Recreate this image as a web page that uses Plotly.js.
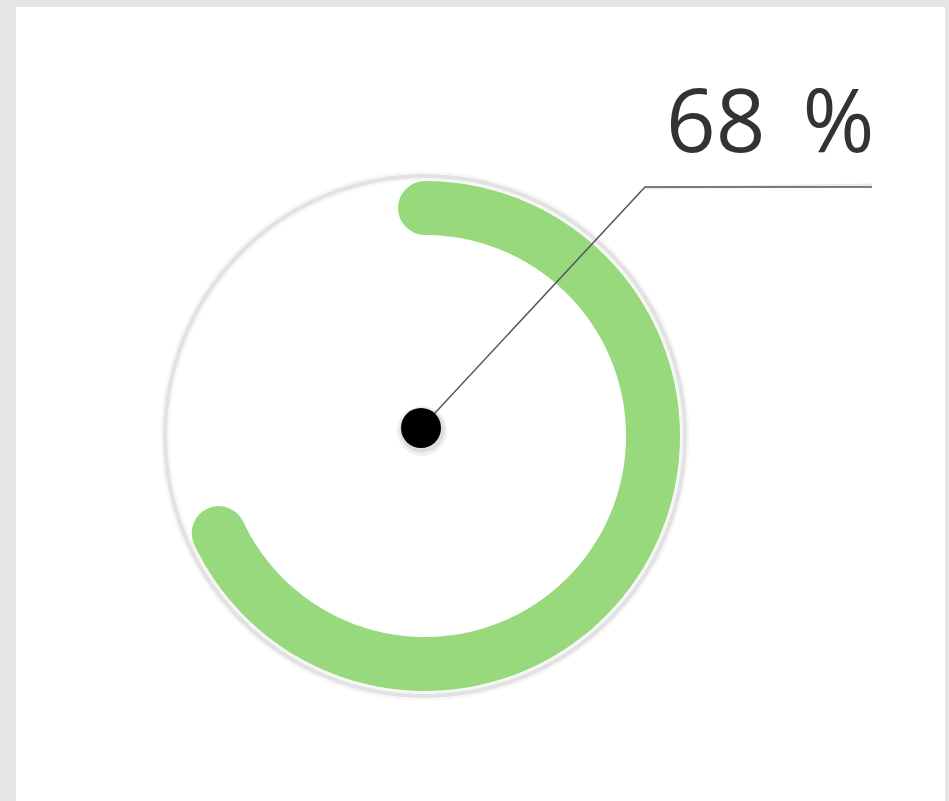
<!DOCTYPE html>
<html><head><meta charset="utf-8">
<script src="https://cdn.plot.ly/plotly-3.0.1.min.js"></script>
<style>html,body{margin:0;padding:0;background:#e6e5e3}</style>
</head><body><div id="chart" style="width:949px;height:801px"></div>
<script>
// ---- data ----
const value = 68;          // percent shown by the gauge
const maxValue = 100;
const labelSuffix = ' %';

// ---- geometry (pixel-like units, origin at gauge centre) ----
const W = 949, H = 801, cx = 425, cy = 436;
const R_RING = 260, R_ARC = 228, ARC_W = 54;
const DOT = {x: -4, y: 8};
const ELBOW = {x: 220, y: 249}, LEAD_END = 447;

const N = 400;
const sweep = value / maxValue * 360;
const arcX = [], arcY = [];
for (let i = 0; i <= N; i++) {
  const a = sweep * i / N * Math.PI / 180;
  arcX.push(R_ARC * Math.sin(a));
  arcY.push(R_ARC * Math.cos(a));
}
const green = '#98d97e';

const traces = [
  {x: arcX, y: arcY, mode: 'lines', line: {color: green, width: ARC_W, simplify: false}, hoverinfo: 'skip'},
  {x: [arcX[0], arcX[N]], y: [arcY[0], arcY[N]], mode: 'markers',
   marker: {color: green, size: ARC_W, line: {width: 0}}, hoverinfo: 'skip'},
  {x: [LEAD_END, ELBOW.x], y: [ELBOW.y + 2, ELBOW.y - 1], mode: 'lines',
   line: {color: 'rgba(0,0,0,0.08)', width: 3}, hoverinfo: 'skip'},
  {x: [DOT.x, ELBOW.x, LEAD_END], y: [DOT.y, ELBOW.y, ELBOW.y], mode: 'lines',
   line: {color: '#555555', width: 1.5, simplify: false}, hoverinfo: 'skip'},
  {x: [DOT.x + 1], y: [DOT.y - 3], mode: 'markers',
   marker: {color: 'rgba(0,0,0,0.06)', size: 50, line: {width: 0}}, hoverinfo: 'skip'},
  {x: [DOT.x + 1], y: [DOT.y - 2], mode: 'markers',
   marker: {color: 'rgba(0,0,0,0.08)', size: 45, line: {width: 0}}, hoverinfo: 'skip'},
  {x: [DOT.x], y: [DOT.y], mode: 'markers',
   marker: {color: '#000000', size: 40, line: {width: 0}}, hoverinfo: 'skip'}
];

const layout = {
  width: W, height: H,
  margin: {l: 0, r: 0, t: 0, b: 0},
  paper_bgcolor: '#e6e5e3',
  plot_bgcolor: 'rgba(0,0,0,0)',
  showlegend: false,
  xaxis: {range: [-cx, W - cx], visible: false, fixedrange: true},
  yaxis: {range: [-(H - cy), cy], visible: false, fixedrange: true},
  shapes: [
    {type: 'rect', xref: 'paper', yref: 'paper', x0: 16 / W, x1: 945 / W, y0: 0, y1: 1 - 7 / H,
     fillcolor: '#ffffff', line: {width: 0}, layer: 'below'},
    {type: 'circle', xref: 'x', yref: 'y', x0: -R_RING, x1: R_RING, y0: -R_RING, y1: R_RING,
     line: {color: 'rgba(0,0,0,0.035)', width: 9}, layer: 'below'},
    {type: 'circle', xref: 'x', yref: 'y', x0: -R_RING, x1: R_RING, y0: -R_RING, y1: R_RING,
     line: {color: '#e2e2e2', width: 4}, layer: 'below'}
  ],
  annotations: [
    {x: LEAD_END + 4, y: ELBOW.y + 8, xref: 'x', yref: 'y', xanchor: 'right', yanchor: 'bottom',
     text: value + '\u2009' + labelSuffix, showarrow: false,
     font: {family: 'Open Sans, sans-serif', size: 87, color: '#333333'}}
  ]
};

Plotly.newPlot('chart', traces, layout, {displayModeBar: false, staticPlot: true});
</script>
</body></html>
